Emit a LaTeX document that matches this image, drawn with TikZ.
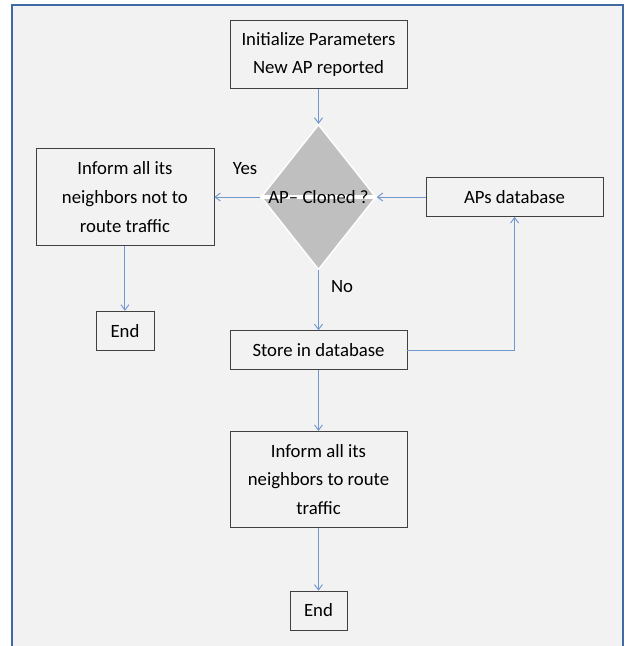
\documentclass[tikz,border=0pt]{standalone}
\usepackage{fontspec}
\setmainfont{Carlito}
\usetikzlibrary{arrows.meta,positioning,shapes.geometric}
\definecolor{sheet}{HTML}{F2F2F2}
\definecolor{frameblue}{HTML}{3F6AA3}
\definecolor{linkblue}{HTML}{7098CF}
\definecolor{edge}{HTML}{404040}
\definecolor{stone}{HTML}{BFBFBF}

\begin{document}
\begin{tikzpicture}[
    x=0.03cm,y=-0.03cm,
    box/.style={draw=edge,line width=0.6pt,fill=sheet,inner sep=0pt,
      minimum width=5.31cm,minimum height=1.17cm,align=center,
      font=\fontsize{16}{24.5}\selectfont},
    test/.style={diamond,fill=stone,draw=white,line width=1.2pt,
      minimum width=3.45cm,minimum height=4.35cm,inner sep=0pt},
    arr/.style={-{Straight Barb[length=1.6mm,width=2.4mm]},line width=0.8pt,draw=linkblue},
    tag/.style={font=\fontsize{16}{18}\selectfont}
  ]
  \useasboundingbox (0,0) rectangle (625,646);
  % page frame
  \fill[sheet] (12,5) rectangle (623,646);
  \draw[frameblue,line width=2.4pt] (12,646) -- (12,5) -- (623,5) -- (623,646);

  \node[box,minimum height=2.04cm] (init) at (318.5,54.5) {Initialize Parameters\\New AP reported};
  \node[test,below=1.05cm of init] (clone) {};
  \draw[white,line width=3pt] (clone.west) -- (clone.east);
  \node[tag] (clonetext) at (clone) {AP– Cloned ?};
  \node[box,right=1.47cm of clone] (apdb) {APs database};
  \node[box,minimum width=5.34cm,minimum height=2.9cm,left=1.38cm of clone] (warn)
    {Inform all its\\neighbors not to\\route traffic};
  \node[box,minimum width=1.74cm,below=1.95cm of warn] (stopA) {End};
  \node[box,below=1.8cm of clone] (store) {Store in database};
  \node[box,minimum height=2.88cm,below=1.83cm of store] (inform)
    {Inform all its\\neighbors to route\\traffic};
  \node[box,minimum width=1.71cm,below=1.89cm of inform] (stopB) {End};

  \node[tag] (yes) at (245,169) {Yes};
  \node[tag] (no) at (342,287) {No};

  \draw[arr] (init) -- (clone);
  \draw[arr] (clone) -- (warn);
  \draw[arr] (apdb) -- (clone);
  \draw[arr] (clone) -- (store);
  \draw[arr] (warn) -- (stopA);
  \draw[arr] (store) -- (inform);
  \draw[arr] (inform) -- (stopB);
  \draw[arr] (store.east) -| (apdb.south);
\end{tikzpicture}
\end{document}
